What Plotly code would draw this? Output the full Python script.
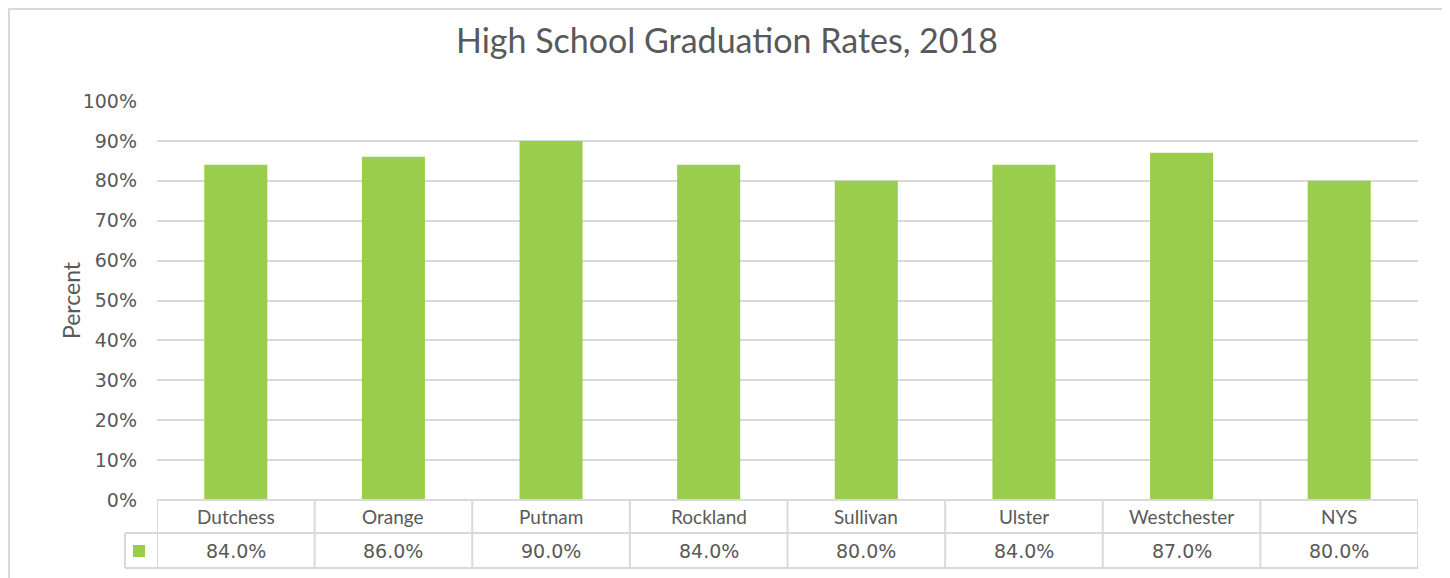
import plotly.graph_objects as go

categories = ["Dutchess", "Orange", "Putnam", "Rockland", "Sullivan", "Ulster", "Westchester", "NYS"]
rates = [84.0, 86.0, 90.0, 84.0, 80.0, 84.0, 87.0, 80.0]
y_ticks = [0, 10, 20, 30, 40, 50, 60, 70, 80, 90, 100]
title_text = "High School Graduation Rates, 2018"
y_title = "Percent"

W, H = 1450, 578
OFF = 8  # page body margin
ML, MT = 149, 93
PW, PH = 1261, 399
MR = W - ML - PW
MB = H - MT - PH

def px_x(sx):
    return (sx - OFF - ML) / PW

def px_y(sy):
    return (MT + PH - (sy - OFF)) / PH

BAR = "#9BCD4C"
GRID = "#D9D9D9"
TXT = "#595959"
FONT = "Lato"
NUMFONT = "DejaVu Sans"

fig = go.Figure()
fig.add_trace(go.Bar(x=list(range(len(categories))), y=rates, marker_color=BAR,
                     marker_line_width=0, width=0.4, hoverinfo="skip"))

shapes = []
n = len(categories)
y_top = px_y(500)
y_mid = px_y(533)
y_bot = px_y(568)
line = dict(color=GRID, width=2)
shapes.append(dict(type="line", xref="x", yref="paper", x0=-0.5, x1=n - 0.5, y0=y_top, y1=y_top, line=line))
shapes.append(dict(type="line", xref="paper", yref="paper", x0=px_x(125), x1=1, y0=y_mid, y1=y_mid, line=line))
shapes.append(dict(type="line", xref="paper", yref="paper", x0=px_x(125), x1=1, y0=y_bot, y1=y_bot, line=line))
for i in range(n + 1):
    shapes.append(dict(type="line", xref="x", yref="paper", x0=i - 0.5, x1=i - 0.5, y0=y_top, y1=y_bot, line=line))
shapes.append(dict(type="line", xref="paper", yref="paper", x0=px_x(125), x1=px_x(125), y0=y_mid, y1=y_bot, line=line))
shapes.append(dict(type="rect", xref="paper", yref="paper", x0=px_x(133), x1=px_x(145), y0=px_y(557), y1=px_y(545),
                   fillcolor=BAR, line=dict(width=0)))
shapes.append(dict(type="rect", xref="paper", yref="paper", x0=px_x(9), x1=px_x(1447), y0=px_y(620), y1=px_y(9),
                   line=dict(color=GRID, width=2), fillcolor="rgba(0,0,0,0)", layer="below"))

annotations = []
for i, (c, v) in enumerate(zip(categories, rates)):
    annotations.append(dict(x=i, y=(y_top + y_mid) / 2, xref="x", yref="paper", text=c, showarrow=False,
                            font=dict(size=19, color=TXT, family=FONT), yanchor="middle"))
    annotations.append(dict(x=i, y=(y_mid + y_bot) / 2, xref="x", yref="paper", text=f"{v:.1f}%", showarrow=False,
                            font=dict(size=19, color=TXT, family=NUMFONT), yanchor="middle"))
annotations.append(dict(x=px_x(55), y=px_y(300), xref="paper", yref="paper", text=y_title, textangle=-90,
                        showarrow=False, font=dict(size=23, color=TXT, family=FONT)))

fig.update_layout(
    width=W, height=H,
    margin=dict(l=ML, r=MR, t=MT, b=MB),
    paper_bgcolor="white", plot_bgcolor="white",
    title=dict(text=title_text, x=(727 - OFF) / W, xanchor="center", y=1 - (41 - OFF) / H, yanchor="middle",
               font=dict(size=34, color=TXT, family=FONT)),
    showlegend=False,
    bargap=0.6,
    shapes=shapes,
    annotations=annotations,
    xaxis=dict(range=[-0.5, n - 0.5], showticklabels=False, showgrid=False, zeroline=False, showline=False),
    yaxis=dict(range=[0, 100], tickvals=y_ticks, ticktext=[f"{t}%" for t in y_ticks],
               showgrid=True, gridcolor=GRID, gridwidth=2, zeroline=False, showline=False,
               tickfont=dict(size=19, color=TXT, family=NUMFONT), ticklabelstandoff=19),
)

fig.write_html("out.html")
